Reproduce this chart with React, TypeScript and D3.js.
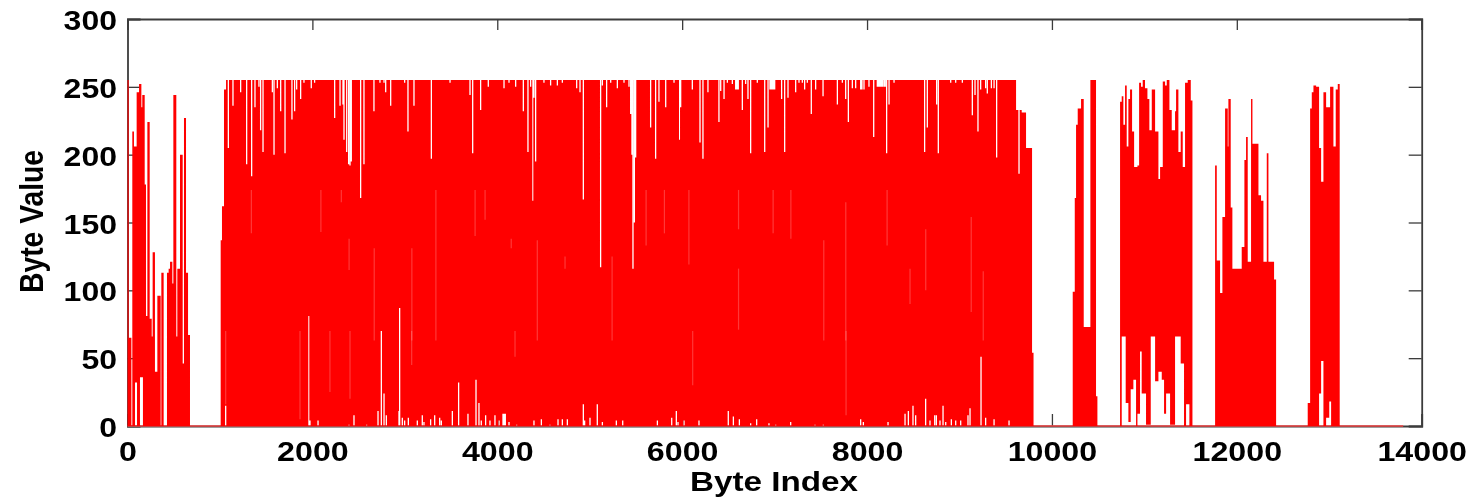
import React, { useEffect, useRef } from 'react';
import * as d3 from 'd3';

const WIDTH = 1471;
const HEIGHT = 498;
const SLIT = 14; // a dropped sample is about this many bytes wide on screen

const xTicks = [0, 2000, 4000, 6000, 8000, 10000, 12000, 14000];
const yTicks = [0, 50, 100, 150, 200, 250, 300];
const traceEnd = [0, 13800];

// first burst, header bytes
const headTopIndex = [0, 13, 42, 52, 70, 99, 125, 150, 160, 186, 200, 215, 240, 262, 272, 297, 323, 359, 366, 391, 427, 445, 460, 485, 496, 528, 539, 568, 597, 611, 633, 655, 676];
const headTopValue = [255, 65, 0, 217, 206, 246, 252, 235, 244, 178, 81, 224, 79, 66, 128, 40, 96, 0, 113, 0, 113, 116, 121, 105, 244, 66, 116, 200, 46, 227, 113, 67, 0];
const headLowIndex = [0, 81, 103, 135, 167, 676];
const headLowValue = [0, 32, 0, 36, 0, 0];

// main body: steps at both ends, samples that stay under 255 or above 0 between them
const bodyStartIndex = [1008, 1022, 1044];
const bodyStartValue = [137, 162, 248];
const bodyEndIndex = [9612, 9637, 9651, 9673, 9720, 9785, 9801];
const bodyEndValue = [233, 186, 233, 231, 205, 54, 0];
const topSlitIndex = [1084, 1134, 1217, 1282, 1336, 1372, 1415, 1433, 1459, 1560, 1578, 1614, 1650, 1697, 1772, 1801, 1823, 1866, 1902, 1981, 2017, 2234, 2292, 2324, 2335, 2364, 2385, 2400, 2414, 2515, 2551, 2659, 2724, 2768, 2786, 2840, 2991, 3027, 3092, 3280, 3482, 3698, 3727, 3813, 3896,
  4066, 4120, 4192, 4275, 4325, 4354, 4379, 4390, 4408, 4498, 4570, 4643, 4697, 4852, 4888, 4924, 5111, 5130, 5176, 5220, 5292, 5364, 5418, 5436, 5450, 5461, 5476, 5490, 5652, 5706, 5742, 5815, 5905, 5966, 5977, 6103, 6186, 6218, 6272, 6391, 6410, 6446, 6482, 6536, 6572, 6586, 6600, 6644, 6680, 6705, 6734, 6806, 6886, 6922, 6943, 6957, 6971, 6985, 6994,
  7069, 7102, 7138, 7221, 7257, 7293, 7318, 7347, 7390, 7437, 7517, 7672, 7726, 7762, 7791, 7834, 7870, 7924, 7938, 7960, 8014, 8065, 8104, 8118, 8132, 8146, 8160, 8176, 8190, 8205, 8231, 8285, 8616, 8645, 8746, 8764, 8898, 8952, 9024, 9132, 9161, 9193, 9222, 9276, 9294, 9338, 9367, 9395];
const topSlitValue = [205, 236, 246, 193, 184, 235, 250, 218, 202, 246, 200, 249, 232, 201, 226, 232, 248, 241, 253, 249, 253, 227, 236, 237, 211, 202, 193, 192, 195, 168, 193, 232, 253, 253, 246, 236, 253, 217, 236, 197, 253, 244, 201, 233, 250,
  249, 253, 250, 232, 202, 250, 166, 242, 195, 253, 251, 251, 253, 249, 246, 167, 117, 251, 235, 253, 249, 253, 250, 230, 200, 116, 150, 198, 220, 197, 239, 235, 253, 211, 235, 248, 209, 197, 246, 224, 247, 241, 253, 252, 248, 248, 248, 233, 252, 241, 201, 253, 202, 220, 248, 248, 248, 248, 248,
  241, 202, 242, 246, 253, 253, 248, 253, 230, 248, 243, 237, 253, 241, 224, 249, 249, 248, 248, 248, 250, 213, 250, 250, 250, 250, 250, 250, 250, 201, 237, 253, 202, 220, 237, 201, 253, 253, 253, 229, 244, 217, 248, 249, 245, 249, 249, 198];
const lowSlitIndex = [1055, 1956, 1967, 2054, 2389, 2443, 2580, 2703, 2739, 2768, 2793, 2930, 2937, 2966, 2991, 3031, 3128, 3182, 3200, 3272, 3316, 3370, 3388, 3507, 3575, 3676, 3763, 3795, 3820, 3867, 3914, 3968, 4012,
  4055, 4066, 4080, 4120, 4203, 4390, 4470, 4563, 4650, 4697, 4751, 4924, 4938, 4996, 5075, 5130, 5281, 5350, 5725, 5880, 5930, 5948, 6013, 6175, 6492, 6547, 6612, 6734, 6799, 6932, 7005,
  7167, 7430, 7520, 7924, 7953, 8220, 8404, 8440, 8490, 8519, 8627, 8674, 8725, 8743, 8782, 8815, 8844, 8905, 8952, 9006, 9085, 9107, 9226, 9276, 9367, 9529];
const lowSlitValue = [15, 81, 4, 4, 1, 8, 1, 11, 70, 24, 8, 11, 87, 6, 4, 6, 4, 8, 3, 5, 8, 6, 4, 11, 32, 9, 34, 17, 4, 8, 4, 8, 4,
  9, 9, 9, 3, 1, 4, 5, 1, 5, 5, 5, 16, 4, 6, 16, 3, 4, 4, 4, 6, 11, 3, 4, 4, 11, 7, 5, 2, 5, 2, 1,
  3, 1, 1, 5, 3, 3, 9, 11, 15, 8, 20, 4, 8, 8, 4, 15, 3, 5, 4, 4, 8, 13, 51, 6, 5, 4];

// pale streaks inside the solid part: index, upper and lower value
const streakIndex = [1062, 1340, 1866, 2092, 2190, 2313, 2397, 2407, 2669, 3074, 3076, 3336, 3760, 3868, 4151, 4192, 4433, 4733, 5242, 5610, 5808, 6073, 6114, 6610, 6610, 6984, 7176, 7532, 7770, 7773, 8217, 8465, 8635, 9127, 9257];
const streakHigh = [70, 174, 70, 174, 70, 174, 138, 70, 131, 70, 131, 174, 174, 174, 138, 70, 137, 125, 125, 174, 174, 174, 70, 174, 116, 174, 174, 137, 165, 70, 174, 116, 145, 154, 114];
const streakLow = [16, 142, 5, 143, 25, 165, 115, 20, 63, 45, 63, 63, 140, 152, 131, 51, 63, 116, 63, 133, 142, 119, 30, 145, 71, 142, 138, 63, 63, 8, 133, 90, 100, 84, 63];

// the four short bursts after the body
const burstATopIndex = [10225, 10247, 10261, 10279, 10315, 10344, 10416, 10477, 10492];
const burstATopValue = [99, 168, 222, 234, 241, 73, 255, 22, 0];

const burstBTopIndex = [10737, 10755, 10773, 10791, 10809, 10827, 10845, 10867, 10889, 10925, 10943, 10964, 10982, 11007, 11033, 11054, 11080, 11116, 11152, 11170, 11199, 11224, 11242, 11271, 11296, 11332, 11343, 11368, 11393, 11415, 11440, 11469, 11502, 11520];
const burstBTopValue = [239, 243, 222, 251, 206, 241, 248, 217, 191, 192, 253, 250, 255, 249, 241, 218, 248, 217, 182, 191, 254, 251, 255, 233, 218, 232, 248, 202, 217, 191, 253, 255, 240, 0];
const burstBLowIndex = [10737, 10755, 10798, 10827, 10852, 10881, 10910, 10925, 10953, 10971, 11018, 11069, 11116, 11152, 11188, 11213, 11235, 11278, 11332, 11393, 11429, 11451, 11487, 11520];
const burstBLowValue = [0, 66, 17, 3, 27, 34, 0, 9, 55, 24, 1, 66, 33, 40, 34, 9, 24, 1, 66, 46, 0, 16, 0, 0];

const burstCTopIndex = [11765, 11783, 11819, 11844, 11873, 11902, 11909, 11934, 11952, 12053, 12082, 12100, 12118, 12154, 12169, 12234, 12262, 12288, 12324, 12342, 12403, 12425];
const burstCTopValue = [192, 122, 98, 154, 234, 206, 241, 161, 116, 132, 196, 213, 121, 241, 208, 170, 166, 121, 201, 121, 108, 0];

const burstDTopIndex = [12767, 12793, 12811, 12829, 12858, 12890, 12912, 12937, 12966, 13009, 13045, 13070, 13092, 13113];
const burstDTopValue = [17, 234, 246, 251, 250, 205, 180, 246, 235, 250, 206, 248, 252, 0];
const burstDLowIndex = [12767, 12890, 12912, 12937, 12966, 13000, 13020, 13113];
const burstDLowValue = [0, 24, 48, 0, 6, 18, 0, 0];

type Pt = [number, number];

const zip = (xs: number[], vs: number[]): Pt[] => xs.map((x, i) => [x, vs[i]] as Pt);

// each slit drops to its value and comes back to the rail level
const slitPoints = (xs: number[], vs: number[], level: number): Pt[] => {
	const pts: Pt[] = [];
	xs.forEach((x, i) => {
		pts.push([x, vs[i]]);
		if (i === xs.length - 1 || xs[i + 1] > x + SLIT) pts.push([x + SLIT, level]);
	});
	return pts;
};

const stepLookup = (pts: Pt[], x: number) => {
	const i = d3.bisectRight(pts.map(p => p[0]), x) - 1;
	return pts[Math.max(0, i)][1];
};

const bursts: { top: Pt[]; low: Pt[] }[] = [
	{ top: zip(headTopIndex, headTopValue), low: zip(headLowIndex, headLowValue) },
	{
		top: [...zip(bodyStartIndex, bodyStartValue), [1066, 255], ...slitPoints(topSlitIndex, topSlitValue, 255), ...zip(bodyEndIndex, bodyEndValue)],
		low: [[1008, 0], ...slitPoints(lowSlitIndex, lowSlitValue, 0), [9801, 0]]
	},
	{ top: zip(burstATopIndex, burstATopValue), low: [[10225, 0], [10492, 0]] },
	{ top: zip(burstBTopIndex, burstBTopValue), low: zip(burstBLowIndex, burstBLowValue) },
	{ top: zip(burstCTopIndex, burstCTopValue), low: [[11765, 0], [12425, 0]] },
	{ top: zip(burstDTopIndex, burstDTopValue), low: zip(burstDLowIndex, burstDLowValue) }
];

export default function App() {
	const svgRef = useRef<SVGSVGElement>(null);

	useEffect(() => {
		const $svg = d3.select(svgRef.current);
		$svg.selectAll('*').remove();

		const x = d3.scaleLinear().domain([0, 14000]).range([127.5, 1421.7]);
		const y = d3.scaleLinear().domain([0, 300]).range([426, 19]);
		const tickFont = 'Liberation Sans, Arial, sans-serif';

		// axes go first, the trace covers them as in the original
		const left = $svg.append('g').attr('transform', `translate(${x(0)},0)`)
			.call(d3.axisLeft(y).tickValues(yTicks).tickSize(-13).tickPadding(0));
		const right = $svg.append('g').attr('transform', `translate(${x(14000)},0)`)
			.call(d3.axisRight(y).tickValues(yTicks).tickSize(-13).tickFormat(() => ''));
		const bottom = $svg.append('g').attr('transform', `translate(0,${y(0)})`)
			.call(d3.axisBottom(x).tickValues(xTicks).tickSize(-12).tickFormat(d3.format('d')));
		const top = $svg.append('g').attr('transform', `translate(0,${y(300)})`)
			.call(d3.axisTop(x).tickValues(xTicks).tickSize(-11).tickFormat(() => ''));

		[left, right, bottom, top].forEach(a => {
			a.selectAll('path').attr('stroke', '#3c3c3c').attr('stroke-width', 1.8);
			a.selectAll('line').attr('stroke', '#3c3c3c').attr('stroke-width', 1.3);
		});

		left.selectAll('text')
			.attr('x', -10.5)
			.attr('dy', null)
			.attr('y', 10.5)
			.attr('text-anchor', 'end')
			.attr('font-family', tickFont)
			.attr('font-weight', 'bold')
			.attr('font-size', 27)
			.attr('fill', '#000')
			.attr('lengthAdjust', 'spacingAndGlyphs')
			.attr('textLength', d => String(d).length * 17.8);
		bottom.selectAll('text')
			.attr('y', 34.5)
			.attr('dy', null)
			.attr('font-family', tickFont)
			.attr('font-weight', 'bold')
			.attr('font-size', 28)
			.attr('fill', '#000')
			.attr('lengthAdjust', 'spacingAndGlyphs')
			.attr('textLength', d => String(d).length * 17.9);

		const area = d3.area<Pt & { 2?: number }>()
			.x(d => x(d[0]))
			.y0(d => y(d[2] as number))
			.y1(d => y(d[1]))
			.curve(d3.curveStepAfter);

		const $trace = $svg.append('g');

		$trace.append('line')
			.attr('x1', x(traceEnd[0]))
			.attr('x2', x(traceEnd[1]))
			.attr('y1', y(0))
			.attr('y2', y(0))
			.attr('stroke', '#f04545')
			.attr('stroke-width', 1.6);

		bursts.forEach(b => {
			const xs = Array.from(new Set([...b.top.map(p => p[0]), ...b.low.map(p => p[0])])).sort((m, n) => m - n);
			const rows = xs.map(v => [v, stepLookup(b.top, v), stepLookup(b.low, v)] as any);
			$trace.append('path')
				.attr('d', area(rows))
				.attr('fill', '#ff0000');
		});

		$trace.selectAll('line.streak')
			.data(streakIndex)
			.enter()
			.append('line')
			.attr('class', 'streak')
			.attr('x1', d => x(d))
			.attr('x2', d => x(d))
			.attr('y1', (d, i) => y(streakHigh[i]))
			.attr('y2', (d, i) => y(streakLow[i]))
			.attr('stroke', '#fff')
			.attr('stroke-opacity', 0.22)
			.attr('stroke-width', 1.2);

		// the source picture is stretched sideways, which thickens the rotated label
		$svg.append('text')
			.attr('transform', `translate(43,221.5) scale(1.23,1) rotate(-90)`)
			.attr('text-anchor', 'middle')
			.attr('font-family', tickFont)
			.attr('font-weight', 'bold')
			.attr('font-size', 27)
			.attr('textLength', 143)
			.attr('lengthAdjust', 'spacingAndGlyphs')
			.text('Byte Value');

		$svg.append('text')
			.attr('x', 774)
			.attr('y', 491)
			.attr('text-anchor', 'middle')
			.attr('font-family', tickFont)
			.attr('font-weight', 'bold')
			.attr('font-size', 27)
			.attr('textLength', 168)
			.attr('lengthAdjust', 'spacingAndGlyphs')
			.text('Byte Index');
	}, []);

	return (
		<svg
			ref={svgRef}
			width={WIDTH}
			height={HEIGHT}
			style={{ position: 'absolute', left: 0, top: 0, background: '#fff', filter: 'blur(0.45px)' }}
		/>
	);
}
